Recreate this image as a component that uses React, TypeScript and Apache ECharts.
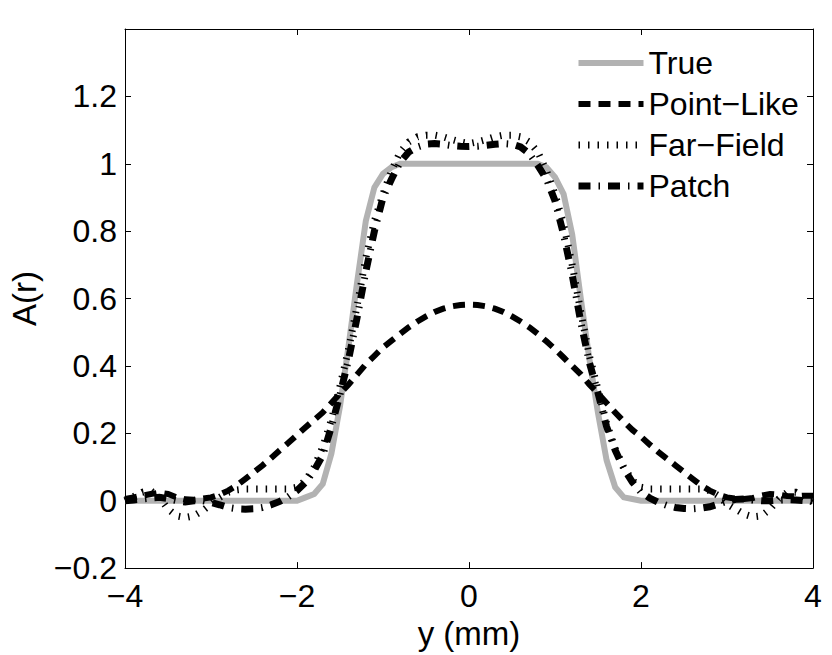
import React, { useEffect, useRef } from "react";
import * as echarts from "echarts";

// Lateral position y (mm), -4 … 4 in steps of 0.1
const positions = [
  -4.0, -3.9, -3.8, -3.7, -3.6, -3.5, -3.4, -3.3, -3.2, -3.1,
  -3.0, -2.9, -2.8, -2.7, -2.6, -2.5, -2.4, -2.3, -2.2, -2.1,
  -2.0, -1.9, -1.8, -1.7, -1.6, -1.5, -1.4, -1.3, -1.2, -1.1,
  -1.0, -0.9, -0.8, -0.7, -0.6, -0.5, -0.4, -0.3, -0.2, -0.1,
  0.0, 0.1, 0.2, 0.3, 0.4, 0.5, 0.6, 0.7, 0.8, 0.9,
  1.0, 1.1, 1.2, 1.3, 1.4, 1.5, 1.6, 1.7, 1.8, 1.9,
  2.0, 2.1, 2.2, 2.3, 2.4, 2.5, 2.6, 2.7, 2.8, 2.9,
  3.0, 3.1, 3.2, 3.3, 3.4, 3.5, 3.6, 3.7, 3.8, 3.9,
  4.0,
];

const trueProfile = [
  0, 0, 0, 0, 0, 0, 0, 0, 0, 0,
  0, 0, 0, 0, 0, 0, 0, 0, 0, 0,
  0, 0.01, 0.02, 0.05, 0.14, 0.28, 0.46, 0.65, 0.83, 0.93,
  0.97, 0.99, 1, 1, 1, 1, 1, 1, 1, 1,
  1, 1, 1, 1, 1, 1, 1, 1, 1, 0.99,
  0.96, 0.91, 0.79, 0.6, 0.42, 0.26, 0.12, 0.04, 0.01, 0.005,
  0, 0, 0, 0, 0, 0, 0, 0, 0, 0,
  0, 0, 0, 0, 0, 0, 0, 0, 0, 0,
  0,
];

const pointLike = [
  0.005, 0.01, 0.015, 0.02, 0.024, 0.02, 0.01, 0.004, 0.003, 0.006,
  0.01, 0.018, 0.03, 0.045, 0.065, 0.085, 0.105, 0.127, 0.15, 0.172,
  0.195, 0.218, 0.24, 0.262, 0.29, 0.318, 0.345, 0.375, 0.405, 0.43,
  0.455, 0.475, 0.495, 0.515, 0.532, 0.547, 0.56, 0.57, 0.577, 0.581,
  0.582, 0.581, 0.577, 0.57, 0.56, 0.547, 0.532, 0.515, 0.495, 0.473,
  0.45, 0.425, 0.4, 0.375, 0.345, 0.318, 0.29, 0.262, 0.235, 0.21,
  0.19, 0.167, 0.145, 0.125, 0.105, 0.085, 0.065, 0.045, 0.03, 0.018,
  0.01, 0.006, 0.005, 0.008, 0.015, 0.02, 0.018, 0.014, 0.013, 0.015,
  0.015,
];

const farField = [
  0.0, 0.012, 0.025, 0.03, 0.01, -0.025, -0.045, -0.05, -0.045, -0.03,
  -0.01, 0.01, 0.025, 0.032, 0.035, 0.035, 0.035, 0.035, 0.035, 0.035,
  0.04, 0.06, 0.1, 0.16, 0.24, 0.34, 0.45, 0.58, 0.72, 0.83,
  0.91, 0.98, 1.035, 1.065, 1.08, 1.085, 1.085, 1.08, 1.072, 1.065,
  1.06, 1.065, 1.072, 1.08, 1.085, 1.085, 1.08, 1.065, 1.035, 0.98,
  0.91, 0.82, 0.7, 0.56, 0.43, 0.33, 0.23, 0.155, 0.1, 0.06,
  0.04, 0.035, 0.035, 0.035, 0.035, 0.035, 0.035, 0.035, 0.03, 0.015,
  -0.01, -0.025, -0.04, -0.048, -0.045, -0.025, 0.005, 0.025, 0.025, 0.01,
  -0.005,
];

const patch = [
  0.0, 0.002, 0.005, 0.008, 0.01, 0.006, 0.0, -0.004, 0.0, 0.0,
  -0.005, -0.012, -0.02, -0.024, -0.025, -0.024, -0.02, -0.012, -0.002, 0.012,
  0.03, 0.055, 0.09, 0.135, 0.22, 0.315, 0.42, 0.545, 0.68, 0.8,
  0.9, 0.955, 1.005, 1.035, 1.05, 1.058, 1.06, 1.058, 1.054, 1.052,
  1.051, 1.052, 1.055, 1.058, 1.06, 1.058, 1.05, 1.03, 0.995, 0.955,
  0.89, 0.79, 0.67, 0.53, 0.41, 0.32, 0.22, 0.15, 0.095, 0.055,
  0.025, 0.008, -0.005, -0.014, -0.02, -0.023, -0.024, -0.022, -0.018, -0.01,
  -0.002, 0.004, 0.005, 0.002, 0.0, 0.0, 0.002, 0.003, 0.002, 0.0,
  0,
];

const seriesNames = ["True", "Point\u2212Like", "Far\u2212Field", "Patch"];

const FONT = "'Liberation Sans', Arial, Helvetica, sans-serif";

const zip = (ys: number[]) => positions.map((x, i) => [x, ys[i]]);

const fmt = (v: number) => {
  const s = String(Number(v.toFixed(1)));
  return s.replace("-", "\u2212");
};

const styles = [
  { color: "#b2b2b2", width: 6, type: "solid" as any },
  { color: "#000000", width: 6, type: [12, 8] as any },
  { color: "#000000", width: 7, type: [1.5, 8] as any },
  { color: "#000000", width: 7, type: [12, 8, 1.5, 8] as any },
];

export default function App() {
  const ref = useRef<HTMLDivElement>(null);

  useEffect(() => {
    if (!ref.current) return;
    const chart = echarts.init(ref.current, null, { renderer: "svg" });

    const axisCommon = {
      type: "value" as const,
      axisLine: { show: true, onZero: false, lineStyle: { color: "#000", width: 1 } },
      axisTick: { show: true, inside: true, length: 6, lineStyle: { color: "#000", width: 1 } },
      splitLine: { show: false },
    };

    const datasets = [trueProfile, pointLike, farField, patch];

    chart.setOption({
      animation: false,
      backgroundColor: "#ffffff",
      grid: { left: 122, right: 19, top: 29, bottom: 82, containLabel: false },
      xAxis: [
        {
          ...axisCommon,
          position: "bottom",
          min: -4,
          max: 4,
          interval: 2,
          name: "y (mm)",
          nameLocation: "middle",
          nameGap: 45,
          nameTextStyle: { fontFamily: FONT, fontSize: 33, color: "#000" },
          axisLabel: {
            fontFamily: FONT,
            fontSize: 32,
            color: "#000",
            margin: 12,
            formatter: (v: number) => fmt(v),
          },
        },
        {
          ...axisCommon,
          position: "top",
          min: -4,
          max: 4,
          interval: 2,
          axisLabel: { show: false },
        },
      ],
      yAxis: [
        {
          ...axisCommon,
          position: "left",
          min: -0.2,
          max: 1.4,
          interval: 0.2,
          name: "A(r)",
          nameLocation: "middle",
          nameGap: 84,
          nameTextStyle: { fontFamily: FONT, fontSize: 33, color: "#000" },
          axisLabel: {
            fontFamily: FONT,
            fontSize: 32,
            color: "#000",
            margin: 8,
            formatter: (v: number) => (v > 1.3 ? "" : fmt(v)),
          },
        },
        {
          ...axisCommon,
          position: "right",
          min: -0.2,
          max: 1.4,
          interval: 0.2,
          axisLabel: { show: false },
        },
      ],
      legend: {
        orient: "vertical",
        left: 575,
        top: 47,
        padding: 0,
        itemWidth: 65,
        itemHeight: 14,
        itemGap: 9,
        textStyle: { fontFamily: FONT, fontSize: 32, color: "#000", lineHeight: 32 },
        data: seriesNames.map((name, i) => ({
          name,
          itemStyle: { opacity: 0 },
          lineStyle: { color: styles[i].color, width: styles[i].width, type: styles[i].type, cap: "butt", opacity: 1 },
        })),
      },
      series: datasets.map((ys, i) => ({
        name: seriesNames[i],
        type: "line",
        data: zip(ys),
        symbol: "none",
        showSymbol: false,
        xAxisIndex: 0,
        yAxisIndex: 0,
        lineStyle: { color: styles[i].color, width: styles[i].width, type: styles[i].type, cap: "butt", join: "miter" },
        itemStyle: { color: styles[i].color },
        emphasis: { disabled: true },
      })),
    });

    return () => chart.dispose();
  }, []);

  return (
    <div
      ref={ref}
      style={{ position: "fixed", left: 0, top: 0, width: 832, height: 655, background: "#fff" }}
    />
  );
}
